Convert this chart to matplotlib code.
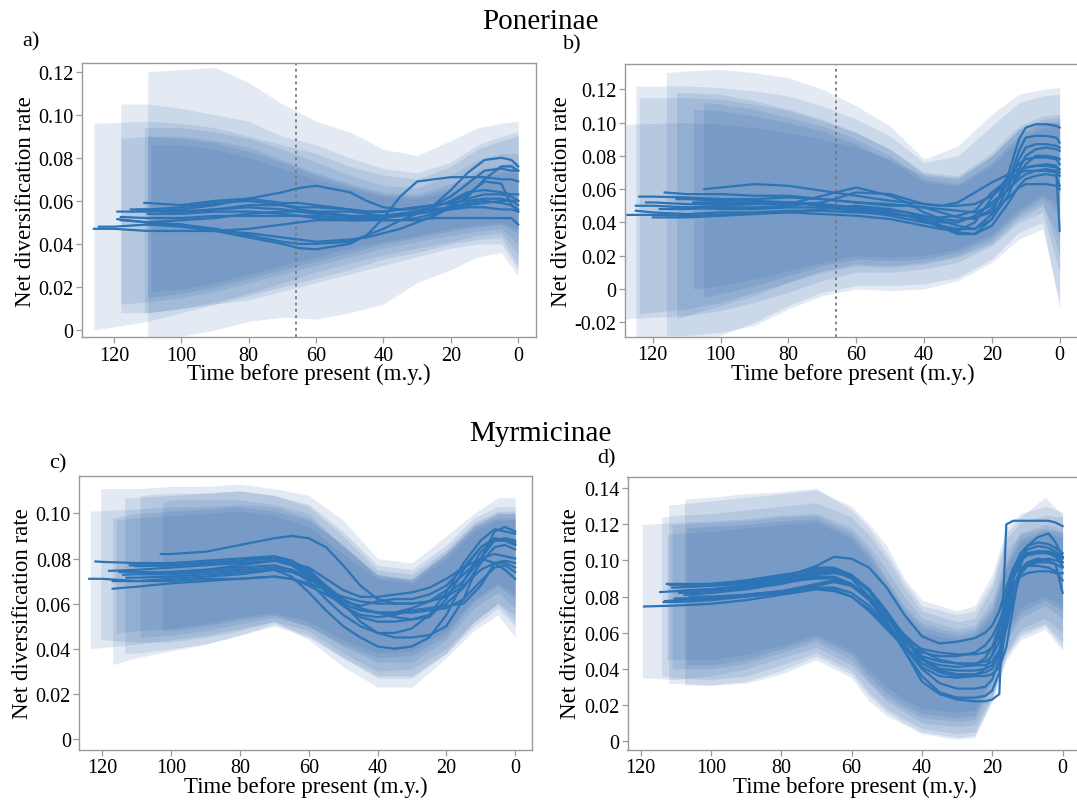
import numpy as np
import matplotlib
matplotlib.use("Agg")
import matplotlib.pyplot as plt
from matplotlib.ticker import FuncFormatter

plt.rcParams['font.family'] = ['Liberation Serif', 'DejaVu Serif']

W, H = 1077, 803

# time grids (m.y. before present), lines start at their own age then follow the grid
grid_a = [120, 110, 100, 90, 80, 70, 65, 60, 50, 45, 40, 35, 30, 25, 20, 15, 10, 5, 2, 0]
grid_b = [120, 110, 100, 90, 80, 70, 60, 50, 45, 40, 35, 30, 25, 20, 15, 12, 10, 7, 4, 1, 0]
grid_c = [120, 110, 100, 90, 80, 70, 65, 60, 55, 50, 45, 40, 35, 30, 25, 20, 15, 10, 6, 3, 0]
grid_d = [110, 100, 90, 80, 70, 65, 60, 55, 50, 45, 40, 35, 30, 25, 22, 20, 18, 16, 14, 12, 10, 7, 4, 2, 0]
band_grid = [110, 100, 90, 80, 70, 60, 50, 40, 30, 20, 12, 5, 0]
band_grid_d = [110, 100, 90, 80, 70, 60, 55, 50, 45, 40, 30, 25, 20, 16, 12, 5, 0]

# ---- Ponerinae a) ----
lines_a = [
    (126, [0.047, 0.047, 0.046, 0.046, 0.046, 0.047, 0.049, 0.050, 0.051, 0.051, 0.051, 0.051, 0.051, 0.051, 0.052, 0.052, 0.052, 0.052, 0.052, 0.052, 0.049]),
    (124.5, [0.048, 0.048, 0.049, 0.049, 0.047, 0.044, 0.041, 0.040, 0.040, 0.041, 0.044, 0.052, 0.062, 0.069, 0.070, 0.071, 0.071, 0.071, 0.070, 0.070, 0.069]),
    (119, [0.0515, 0.050, 0.049, 0.046, 0.043, 0.040, 0.038, 0.0375, 0.040, 0.044, 0.047, 0.051, 0.054, 0.058, 0.065, 0.073, 0.079, 0.080, 0.079, 0.076]),
    (119, [0.055, 0.055, 0.056, 0.058, 0.061, 0.064, 0.066, 0.067, 0.064, 0.060, 0.057, 0.056, 0.056, 0.056, 0.057, 0.058, 0.059, 0.060, 0.060, 0.058]),
    (115, [0.056, 0.056, 0.055, 0.056, 0.057, 0.056, 0.055, 0.054, 0.053, 0.053, 0.053, 0.054, 0.055, 0.057, 0.060, 0.064, 0.065, 0.064, 0.063, 0.063]),
    (111, [0.059, 0.059, 0.058, 0.060, 0.061, 0.059, 0.059, 0.058, 0.056, 0.055, 0.055, 0.056, 0.057, 0.058, 0.059, 0.060, 0.061, 0.061, 0.060, 0.060]),
    (110, [0.054, 0.054, 0.055, 0.055, 0.054, 0.053, 0.052, 0.051, 0.051, 0.052, 0.053, 0.055, 0.058, 0.062, 0.068, 0.074, 0.075, 0.074, 0.074]),
    (118, [0.051, 0.050, 0.051, 0.052, 0.054, 0.055, 0.055, 0.055, 0.055, 0.054, 0.053, 0.053, 0.054, 0.055, 0.056, 0.057, 0.057, 0.056, 0.056, 0.055]),
    (113, [0.056, 0.056, 0.057, 0.059, 0.060, 0.058, 0.057, 0.057, 0.056, 0.055, 0.055, 0.056, 0.057, 0.058, 0.059, 0.063, 0.069, 0.068, 0.058, 0.055]),
    (110.5, [0.049, 0.049, 0.048, 0.046, 0.045, 0.043, 0.042, 0.041, 0.042, 0.043, 0.045, 0.047, 0.050, 0.053, 0.057, 0.062, 0.070, 0.076, 0.076, 0.074]),
    (118, [0.0525, 0.052, 0.052, 0.053, 0.053, 0.053, 0.053, 0.053, 0.052, 0.052, 0.053, 0.054, 0.055, 0.056, 0.057, 0.059, 0.060, 0.059, 0.058, 0.056]),
    (106, [0.055, 0.055, 0.056, 0.058, 0.058, 0.056, 0.055, 0.053, 0.052, 0.051, 0.051, 0.052, 0.054, 0.058, 0.061, 0.063, 0.063, 0.062, 0.060]),
]
bands_a = [  # (start, lower, upper)
    (126, [0.000, 0.004, 0.008, 0.012, 0.016, 0.020, 0.024, 0.028, 0.033, 0.036, 0.040, 0.042, 0.043, 0.030],
          [0.096, 0.097, 0.096, 0.094, 0.090, 0.086, 0.082, 0.076, 0.072, 0.070, 0.076, 0.084, 0.088, 0.090]),
    (118, [0.008, 0.008, 0.010, 0.012, 0.014, 0.018, 0.022, 0.026, 0.030, 0.034, 0.038, 0.040, 0.040, 0.028],
          [0.105, 0.105, 0.103, 0.100, 0.097, 0.090, 0.086, 0.080, 0.075, 0.073, 0.078, 0.086, 0.090, 0.092]),
    (110, [-0.004, -0.003, 0.000, 0.004, 0.006, 0.005, 0.008, 0.012, 0.022, 0.028, 0.034, 0.036, 0.025],
          [0.120, 0.121, 0.122, 0.115, 0.105, 0.097, 0.092, 0.084, 0.081, 0.088, 0.094, 0.096, 0.097]),
    (118, [0.012, 0.013, 0.015, 0.018, 0.022, 0.026, 0.030, 0.034, 0.038, 0.041, 0.044, 0.046, 0.047, 0.040],
          [0.089, 0.090, 0.090, 0.088, 0.085, 0.079, 0.073, 0.068, 0.064, 0.063, 0.068, 0.074, 0.077, 0.078]),
    (111, [0.008, 0.008, 0.010, 0.013, 0.017, 0.022, 0.027, 0.031, 0.035, 0.038, 0.041, 0.044, 0.045, 0.035],
          [0.094, 0.094, 0.094, 0.092, 0.089, 0.084, 0.078, 0.072, 0.067, 0.066, 0.072, 0.079, 0.082, 0.082]),
    (110, [0.015, 0.017, 0.020, 0.024, 0.028, 0.032, 0.036, 0.040, 0.043, 0.046, 0.048, 0.049, 0.045],
          [0.090, 0.089, 0.087, 0.083, 0.078, 0.072, 0.067, 0.063, 0.062, 0.066, 0.072, 0.075, 0.075]),
    (109, [0.018, 0.019, 0.022, 0.026, 0.030, 0.034, 0.038, 0.041, 0.044, 0.047, 0.049, 0.050, 0.047],
          [0.086, 0.086, 0.084, 0.080, 0.075, 0.070, 0.066, 0.062, 0.061, 0.064, 0.070, 0.073, 0.073]),
]

# ---- Ponerinae b) ----
lines_b = [
    (127.5, [0.0445, 0.0445, 0.044, 0.0445, 0.0455, 0.046, 0.045, 0.044, 0.042, 0.040, 0.038, 0.036, 0.035, 0.040, 0.055, 0.068, 0.075, 0.078, 0.079, 0.079, 0.078, 0.075]),
    (125, [0.050, 0.050, 0.049, 0.050, 0.051, 0.052, 0.051, 0.049, 0.047, 0.046, 0.044, 0.041, 0.038, 0.036, 0.045, 0.070, 0.090, 0.097, 0.099, 0.099, 0.098, 0.097]),
    (125, [0.047, 0.046, 0.045, 0.046, 0.046, 0.047, 0.047, 0.046, 0.045, 0.044, 0.042, 0.040, 0.040, 0.044, 0.052, 0.060, 0.066, 0.069, 0.071, 0.072, 0.071, 0.035]),
    (124, [0.0555, 0.0555, 0.055, 0.054, 0.054, 0.055, 0.054, 0.052, 0.050, 0.050, 0.049, 0.046, 0.043, 0.042, 0.048, 0.065, 0.083, 0.091, 0.092, 0.092, 0.091, 0.088]),
    (116.5, [0.058, 0.057, 0.057, 0.056, 0.056, 0.054, 0.052, 0.051, 0.050, 0.049, 0.048, 0.047, 0.046, 0.050, 0.060, 0.068, 0.075, 0.080, 0.080, 0.079, 0.078]),
    (113, [0.054, 0.054, 0.053, 0.053, 0.052, 0.050, 0.048, 0.046, 0.044, 0.041, 0.037, 0.033, 0.033, 0.042, 0.062, 0.078, 0.085, 0.087, 0.087, 0.086, 0.085]),
    (104.8, [0.060, 0.061, 0.063, 0.062, 0.059, 0.056, 0.053, 0.052, 0.051, 0.050, 0.050, 0.051, 0.056, 0.064, 0.070, 0.073, 0.074, 0.074, 0.073, 0.072]),
    (120, [0.043, 0.043, 0.044, 0.045, 0.046, 0.048, 0.050, 0.048, 0.046, 0.043, 0.038, 0.034, 0.033, 0.038, 0.052, 0.062, 0.066, 0.068, 0.069, 0.068, 0.062]),
    (118, [0.048, 0.048, 0.049, 0.049, 0.050, 0.052, 0.058, 0.057, 0.054, 0.051, 0.050, 0.052, 0.058, 0.064, 0.069, 0.072, 0.073, 0.074, 0.075, 0.074, 0.070]),
    (108, [0.052, 0.052, 0.051, 0.051, 0.056, 0.061, 0.056, 0.052, 0.046, 0.042, 0.041, 0.043, 0.046, 0.055, 0.061, 0.063, 0.063, 0.063, 0.062, 0.060]),
    (112, [0.049, 0.049, 0.048, 0.048, 0.049, 0.049, 0.047, 0.044, 0.042, 0.040, 0.038, 0.036, 0.036, 0.042, 0.057, 0.072, 0.080, 0.084, 0.085, 0.084, 0.083]),
    (122, [0.052, 0.052, 0.051, 0.051, 0.052, 0.052, 0.050, 0.047, 0.045, 0.044, 0.043, 0.043, 0.044, 0.047, 0.058, 0.066, 0.070, 0.071, 0.071, 0.071, 0.070, 0.068]),
]
bands_b = [
    (128, [-0.018, -0.016, -0.013, -0.008, -0.002, 0.005, 0.010, 0.010, 0.012, 0.016, 0.026, 0.040, 0.046, 0.010],
          [0.099, 0.100, 0.099, 0.097, 0.094, 0.090, 0.085, 0.078, 0.068, 0.066, 0.080, 0.096, 0.100, 0.100]),
    (125, [-0.030, -0.030, -0.028, -0.020, -0.010, -0.002, 0.002, 0.002, 0.003, 0.007, 0.018, 0.034, 0.040, -0.012],
          [0.122, 0.122, 0.121, 0.119, 0.116, 0.110, 0.102, 0.092, 0.076, 0.080, 0.098, 0.112, 0.116, 0.117]),
    (116, [-0.028, -0.028, -0.026, -0.022, -0.012, -0.004, 0.000, -0.001, 0.000, 0.005, 0.016, 0.030, 0.036, -0.008],
          [0.130, 0.131, 0.132, 0.130, 0.127, 0.120, 0.110, 0.098, 0.078, 0.086, 0.105, 0.117, 0.120, 0.121]),
    (124, [-0.015, -0.012, -0.008, -0.002, 0.004, 0.010, 0.014, 0.013, 0.015, 0.019, 0.027, 0.042, 0.050, 0.030],
          [0.115, 0.115, 0.114, 0.111, 0.107, 0.101, 0.094, 0.084, 0.070, 0.068, 0.082, 0.098, 0.104, 0.105]),
    (113, [-0.018, -0.016, -0.010, -0.004, 0.004, 0.011, 0.015, 0.014, 0.016, 0.020, 0.029, 0.044, 0.052, 0.020],
          [0.118, 0.118, 0.117, 0.113, 0.108, 0.102, 0.094, 0.084, 0.069, 0.067, 0.080, 0.096, 0.102, 0.103]),
    (105, [-0.005, -0.003, 0.002, 0.008, 0.014, 0.018, 0.017, 0.018, 0.022, 0.031, 0.046, 0.055, 0.045],
          [0.112, 0.111, 0.108, 0.103, 0.098, 0.090, 0.080, 0.066, 0.063, 0.076, 0.092, 0.100, 0.101]),
    (108, [0.000, 0.002, 0.006, 0.011, 0.016, 0.020, 0.019, 0.020, 0.024, 0.033, 0.048, 0.057, 0.050],
          [0.108, 0.107, 0.104, 0.100, 0.095, 0.087, 0.077, 0.064, 0.062, 0.074, 0.090, 0.097, 0.098]),
]

# ---- Myrmicinae c) ----
lines_c = [
    (123.8, [0.071, 0.071, 0.070, 0.070, 0.071, 0.071, 0.072, 0.071, 0.068, 0.064, 0.060, 0.057, 0.056, 0.056, 0.058, 0.061, 0.066, 0.073, 0.080, 0.082, 0.081, 0.080]),
    (122, [0.0787, 0.0785, 0.078, 0.078, 0.079, 0.080, 0.081, 0.079, 0.074, 0.067, 0.061, 0.059, 0.061, 0.062, 0.062, 0.064, 0.068, 0.076, 0.085, 0.088, 0.088, 0.086]),
    (117, [0.0666, 0.0675, 0.069, 0.070, 0.071, 0.072, 0.071, 0.069, 0.066, 0.063, 0.061, 0.060, 0.060, 0.060, 0.061, 0.063, 0.068, 0.075, 0.078, 0.078, 0.076]),
    (117, [0.070, 0.070, 0.071, 0.072, 0.073, 0.075, 0.072, 0.065, 0.057, 0.050, 0.045, 0.041, 0.040, 0.041, 0.045, 0.055, 0.070, 0.083, 0.088, 0.088, 0.087]),
    (115, [0.074, 0.074, 0.074, 0.075, 0.076, 0.077, 0.075, 0.070, 0.062, 0.055, 0.050, 0.047, 0.047, 0.049, 0.055, 0.065, 0.078, 0.088, 0.093, 0.092, 0.091]),
    (114, [0.0728, 0.073, 0.073, 0.074, 0.075, 0.076, 0.075, 0.072, 0.066, 0.059, 0.054, 0.052, 0.052, 0.053, 0.055, 0.060, 0.067, 0.078, 0.085, 0.086, 0.084]),
    (110.5, [0.0766, 0.0766, 0.077, 0.078, 0.079, 0.080, 0.078, 0.073, 0.066, 0.060, 0.057, 0.056, 0.056, 0.056, 0.057, 0.058, 0.062, 0.070, 0.076, 0.077, 0.074]),
    (103, [0.082, 0.082, 0.083, 0.086, 0.089, 0.090, 0.089, 0.085, 0.077, 0.068, 0.062, 0.060, 0.060, 0.061, 0.064, 0.070, 0.080, 0.088, 0.089, 0.088]),
    (113, [0.0715, 0.0715, 0.072, 0.073, 0.074, 0.075, 0.074, 0.071, 0.066, 0.060, 0.052, 0.047, 0.045, 0.045, 0.046, 0.050, 0.062, 0.080, 0.092, 0.094, 0.092]),
    (118, [0.0745, 0.075, 0.076, 0.077, 0.078, 0.079, 0.078, 0.076, 0.071, 0.066, 0.063, 0.063, 0.064, 0.065, 0.067, 0.071, 0.076, 0.080, 0.078, 0.075, 0.071]),
    (108, [0.0735, 0.074, 0.075, 0.077, 0.079, 0.077, 0.072, 0.065, 0.059, 0.055, 0.054, 0.055, 0.057, 0.058, 0.059, 0.060, 0.068, 0.078, 0.079, 0.078]),
    (112, [0.077, 0.077, 0.077, 0.078, 0.079, 0.081, 0.079, 0.075, 0.068, 0.062, 0.058, 0.056, 0.054, 0.053, 0.054, 0.062, 0.075, 0.085, 0.089, 0.088, 0.086]),
]
bands_c = [
    (123.5, [0.040, 0.042, 0.044, 0.046, 0.049, 0.052, 0.048, 0.038, 0.030, 0.031, 0.040, 0.052, 0.060, 0.052],
            [0.101, 0.102, 0.103, 0.103, 0.104, 0.103, 0.098, 0.086, 0.072, 0.071, 0.082, 0.094, 0.100, 0.100]),
    (120.5, [0.044, 0.043, 0.043, 0.045, 0.048, 0.052, 0.044, 0.032, 0.023, 0.023, 0.036, 0.048, 0.055, 0.045],
            [0.111, 0.111, 0.112, 0.112, 0.113, 0.111, 0.108, 0.097, 0.080, 0.078, 0.090, 0.100, 0.107, 0.107]),
    (117, [0.033, 0.036, 0.039, 0.042, 0.046, 0.050, 0.045, 0.036, 0.028, 0.028, 0.038, 0.050, 0.058, 0.050],
          [0.098, 0.100, 0.101, 0.102, 0.103, 0.101, 0.097, 0.086, 0.073, 0.071, 0.083, 0.095, 0.100, 0.100]),
    (113.5, [0.038, 0.038, 0.040, 0.042, 0.046, 0.051, 0.046, 0.036, 0.027, 0.027, 0.038, 0.052, 0.060, 0.055],
            [0.107, 0.107, 0.108, 0.109, 0.110, 0.108, 0.104, 0.092, 0.077, 0.075, 0.086, 0.098, 0.103, 0.103]),
    (109, [0.045, 0.046, 0.048, 0.051, 0.054, 0.050, 0.041, 0.034, 0.034, 0.044, 0.058, 0.065, 0.058],
          [0.108, 0.109, 0.109, 0.110, 0.108, 0.103, 0.090, 0.075, 0.073, 0.084, 0.096, 0.101, 0.101]),
    (102.5, [0.048, 0.048, 0.050, 0.053, 0.055, 0.050, 0.042, 0.036, 0.037, 0.046, 0.061, 0.068, 0.062],
            [0.105, 0.106, 0.106, 0.106, 0.104, 0.100, 0.085, 0.073, 0.070, 0.082, 0.094, 0.098, 0.098]),
    (116, [0.047, 0.048, 0.049, 0.051, 0.054, 0.056, 0.052, 0.044, 0.038, 0.039, 0.048, 0.062, 0.069, 0.064],
          [0.097, 0.098, 0.099, 0.100, 0.101, 0.099, 0.094, 0.082, 0.071, 0.069, 0.080, 0.092, 0.097, 0.097]),
]

# ---- Myrmicinae d) ----
lines_d = [
    (119, [0.0745, 0.075, 0.076, 0.078, 0.081, 0.084, 0.083, 0.080, 0.072, 0.062, 0.052, 0.045, 0.042, 0.041, 0.042, 0.046, 0.052, 0.064, 0.080, 0.092, 0.096, 0.097, 0.097, 0.096, 0.094, 0.089]),
    (114.4, [0.0825, 0.083, 0.084, 0.086, 0.089, 0.093, 0.094, 0.091, 0.083, 0.070, 0.056, 0.045, 0.039, 0.037, 0.037, 0.038, 0.040, 0.048, 0.068, 0.090, 0.101, 0.104, 0.105, 0.104, 0.103, 0.101]),
    (113.4, [0.077, 0.077, 0.078, 0.080, 0.082, 0.085, 0.085, 0.082, 0.075, 0.064, 0.052, 0.040, 0.032, 0.029, 0.029, 0.030, 0.034, 0.045, 0.070, 0.092, 0.100, 0.103, 0.104, 0.104, 0.103, 0.099]),
    (111.7, [0.0865, 0.0865, 0.087, 0.089, 0.092, 0.095, 0.095, 0.092, 0.084, 0.071, 0.057, 0.047, 0.044, 0.043, 0.043, 0.044, 0.047, 0.055, 0.075, 0.095, 0.104, 0.108, 0.110, 0.109, 0.107, 0.104]),
    (110.3, [0.079, 0.079, 0.079, 0.080, 0.082, 0.086, 0.088, 0.086, 0.079, 0.066, 0.050, 0.036, 0.027, 0.024, 0.024, 0.025, 0.028, 0.038, 0.065, 0.090, 0.100, 0.103, 0.105, 0.104, 0.102, 0.097]),
    (111, [0.085, 0.085, 0.086, 0.088, 0.091, 0.096, 0.096, 0.092, 0.083, 0.069, 0.054, 0.041, 0.036, 0.035, 0.036, 0.040, 0.048, 0.062, 0.080, 0.095, 0.102, 0.106, 0.108, 0.107, 0.105, 0.102]),
    (107.5, [0.081, 0.082, 0.084, 0.087, 0.091, 0.091, 0.087, 0.079, 0.068, 0.057, 0.051, 0.049, 0.048, 0.048, 0.049, 0.052, 0.058, 0.070, 0.085, 0.094, 0.098, 0.100, 0.101, 0.100, 0.099]),
    (112.5, [0.087, 0.087, 0.087, 0.088, 0.090, 0.097, 0.102, 0.101, 0.096, 0.085, 0.070, 0.058, 0.054, 0.055, 0.057, 0.060, 0.064, 0.072, 0.085, 0.096, 0.102, 0.104, 0.105, 0.105, 0.104, 0.102]),
    (113, [0.0775, 0.078, 0.079, 0.081, 0.083, 0.087, 0.089, 0.086, 0.078, 0.065, 0.050, 0.033, 0.026, 0.023, 0.022, 0.022, 0.023, 0.026, 0.120, 0.122, 0.122, 0.122, 0.122, 0.122, 0.121, 0.119]),
    (108, [0.0855, 0.086, 0.087, 0.090, 0.094, 0.094, 0.090, 0.080, 0.066, 0.052, 0.043, 0.038, 0.036, 0.036, 0.036, 0.037, 0.041, 0.052, 0.075, 0.097, 0.108, 0.113, 0.115, 0.110, 0.102]),
    (106, [0.080, 0.080, 0.081, 0.083, 0.085, 0.084, 0.080, 0.073, 0.064, 0.055, 0.049, 0.047, 0.047, 0.049, 0.053, 0.058, 0.066, 0.077, 0.087, 0.091, 0.093, 0.094, 0.094, 0.093, 0.093]),
    (109, [0.082, 0.083, 0.085, 0.088, 0.092, 0.093, 0.091, 0.084, 0.072, 0.058, 0.046, 0.040, 0.039, 0.039, 0.040, 0.042, 0.050, 0.066, 0.085, 0.095, 0.099, 0.101, 0.100, 0.098, 0.082]),
    (110, [0.083, 0.084, 0.086, 0.088, 0.090, 0.090, 0.087, 0.080, 0.070, 0.059, 0.050, 0.045, 0.043, 0.042, 0.042, 0.044, 0.050, 0.062, 0.080, 0.092, 0.097, 0.099, 0.099, 0.098, 0.096]),
]
bands_d = [
    (119.5, [0.035, 0.034, 0.036, 0.040, 0.046, 0.052, 0.042, 0.032, 0.022, 0.016, 0.010, 0.008, 0.009, 0.025, 0.050, 0.062, 0.068, 0.060],
            [0.120, 0.121, 0.122, 0.123, 0.125, 0.126, 0.118, 0.108, 0.095, 0.080, 0.068, 0.062, 0.064, 0.078, 0.105, 0.115, 0.118, 0.116]),
    (112, [0.032, 0.032, 0.031, 0.032, 0.037, 0.045, 0.035, 0.022, 0.014, 0.009, 0.004, 0.001, 0.002, 0.022, 0.045, 0.056, 0.062, 0.050],
          [0.131, 0.131, 0.133, 0.135, 0.137, 0.139, 0.130, 0.120, 0.108, 0.090, 0.078, 0.072, 0.075, 0.092, 0.118, 0.126, 0.130, 0.127]),
    (114, [0.036, 0.035, 0.034, 0.036, 0.042, 0.049, 0.039, 0.027, 0.018, 0.012, 0.007, 0.004, 0.005, 0.024, 0.048, 0.060, 0.065, 0.055],
          [0.124, 0.125, 0.126, 0.128, 0.130, 0.132, 0.124, 0.114, 0.101, 0.085, 0.072, 0.066, 0.068, 0.085, 0.112, 0.121, 0.125, 0.124]),
    (107.5, [0.031, 0.031, 0.033, 0.039, 0.047, 0.037, 0.025, 0.016, 0.010, 0.005, 0.002, 0.003, 0.023, 0.047, 0.058, 0.064, 0.052],
            [0.134, 0.135, 0.137, 0.138, 0.140, 0.128, 0.118, 0.104, 0.088, 0.075, 0.070, 0.072, 0.088, 0.115, 0.124, 0.135, 0.125]),
    (111, [0.040, 0.040, 0.040, 0.043, 0.049, 0.055, 0.045, 0.033, 0.024, 0.018, 0.013, 0.011, 0.012, 0.030, 0.055, 0.068, 0.075, 0.068],
          [0.120, 0.120, 0.121, 0.122, 0.124, 0.125, 0.116, 0.105, 0.090, 0.075, 0.065, 0.060, 0.062, 0.075, 0.100, 0.115, 0.120, 0.118]),
    (107, [0.042, 0.042, 0.045, 0.051, 0.057, 0.048, 0.036, 0.027, 0.020, 0.015, 0.013, 0.014, 0.033, 0.058, 0.071, 0.078, 0.072],
          [0.118, 0.119, 0.120, 0.122, 0.123, 0.114, 0.103, 0.088, 0.073, 0.063, 0.058, 0.060, 0.072, 0.098, 0.112, 0.117, 0.115]),
    (112.5, [0.045, 0.045, 0.045, 0.048, 0.053, 0.059, 0.050, 0.039, 0.030, 0.023, 0.018, 0.016, 0.017, 0.036, 0.061, 0.074, 0.080, 0.075],
            [0.114, 0.115, 0.116, 0.118, 0.120, 0.121, 0.112, 0.100, 0.085, 0.070, 0.060, 0.056, 0.058, 0.070, 0.095, 0.110, 0.115, 0.113]),
]

panels = [
    # pixel box (left, top, right, bottom), xlim, ylim, yticks, vline, label, label pos
    dict(lines=lines_a, grid=grid_a, bands=bands_a, bgrid=band_grid,
         box=(82, 64.3, 535.7, 338.3), xlim=(129.5, -5.2), ylim=(-0.0034, 0.1239),
         yticks=np.arange(0, 0.121, 0.02), vline=66, tag='a)', tagpos=(31, 42)),
    dict(lines=lines_b, grid=grid_b, bands=bands_b, bgrid=band_grid,
         box=(625, 65, 1081, 337.7), xlim=(128.2, -6.3), ylim=(-0.0287, 0.1352),
         yticks=np.arange(-0.02, 0.121, 0.02), vline=66, tag='b)', tagpos=(572, 45)),
    dict(lines=lines_c, grid=grid_c, bands=bands_c, bgrid=band_grid,
         box=(79.3, 477, 531.7, 750.5), xlim=(126.7, -4.8), ylim=(-0.0047, 0.1166),
         yticks=np.arange(0, 0.101, 0.02), vline=None, tag='c)', tagpos=(58, 464)),
    dict(lines=lines_d, grid=grid_d, bands=bands_d, bgrid=band_grid_d,
         box=(627.5, 477.5, 1083, 750.7), xlim=(123.7, -5.8), ylim=(-0.0048, 0.1465),
         yticks=np.arange(0, 0.141, 0.02), vline=None, tag='d)', tagpos=(606, 459)),
]

band_color = '#1f5aa3'
line_color = '#2c74b5'
spine_color = '#9a9a9a'


def series(start, vals, grid):
    t = [start] + [g for g in grid if g < start]
    if len(t) != len(vals):
        raise ValueError('length mismatch at start %s: %d vs %d' % (start, len(t), len(vals)))
    return np.array(t, float), np.array(vals, float)


def fmt(v, pos):
    if abs(v) < 1e-9:
        return '0'
    return '%.2f' % v


fig = plt.figure(figsize=(W / 100, H / 100), dpi=100)

for p in panels:
    l, t, r, b = p['box']
    ax = fig.add_axes([l / W, 1 - b / H, (r - l) / W, (b - t) / H])

    for start, lo, hi in p['bands']:
        ts, lo_v = series(start, lo, p['bgrid'])
        _, hi_v = series(start, hi, p['bgrid'])
        ax.fill_between(ts, lo_v, hi_v, color=band_color, alpha=0.12, lw=0)

    if p['vline'] is not None:
        ax.axvline(p['vline'], color='#777777', ls=(0, (1.5, 2)), lw=1.3)

    for start, vals in p['lines']:
        ts, v = series(start, vals, p['grid'])
        ax.plot(ts, v, color=line_color, lw=1.6, solid_joinstyle='round')

    ax.set_xlim(*p['xlim'])
    ax.set_ylim(*p['ylim'])
    ax.set_xticks([120, 100, 80, 60, 40, 20, 0])
    ax.set_yticks(p['yticks'])
    ax.yaxis.set_major_formatter(FuncFormatter(fmt))
    ax.tick_params(direction='out', length=4, width=0.9, color=spine_color,
                   labelsize=14.5, pad=2)
    for s in ax.spines.values():
        s.set_color(spine_color)
        s.set_linewidth(1.0)
    ax.set_xlabel('Time before present (m.y.)', fontsize=16.5, labelpad=-1)
    ax.set_ylabel('Net diversification rate', fontsize=16.5, labelpad=2)

    fig.text(p['tagpos'][0] / W, 1 - p['tagpos'][1] / H, p['tag'],
             fontsize=16, ha='center', va='center')

fig.text(540 / W, 1 - 22 / H, 'Ponerinae', fontsize=21, ha='center', va='center')
fig.text(540 / W, 1 - 434 / H, 'Myrmicinae', fontsize=21, ha='center', va='center')

fig.savefig('out.png', dpi=100)
